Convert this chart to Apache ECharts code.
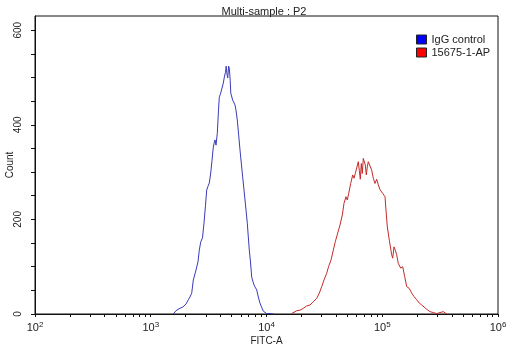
<!DOCTYPE html>
<html>
<head>
<meta charset="utf-8">
<script src="https://cdn.jsdelivr.net/npm/echarts@6/dist/echarts.min.js"></script>
<style>
  html, body { margin: 0; padding: 0; background: #fff; }
  #chart { width: 512px; height: 347px; }
</style>
</head>
<body>
<div id="chart"></div>
<script>
// FITC-A histogram: isotype control vs. antibody-stained sample
var titleText = 'Multi-sample : P2';
var seriesNames = ['IgG control', '15675-1-AP'];

// IgG control: FITC-A channel value and event count
var iggFitc = [1566, 1604, 1652, 1754, 1899, 2016, 2111, 2183, 2259, 2332, 2412, 2460, 2559, 2627, 2701, 2744, 2799, 2884, 2972, 3043, 3123, 3205, 3296, 3383, 3471, 3540, 3589, 3662, 3758, 3849, 3911, 4021, 4127, 4235, 4338, 4425, 4486, 4558, 4622, 4713, 4788, 4855, 4913, 5105, 5343, 5450, 5593, 5751, 5902, 6058, 6229, 6392, 6521, 6678, 6825, 6963, 7103, 7275, 7451, 7646, 7877, 8229, 8496, 8787, 9053, 9384, 9705, 10040, 10303, 10720, 11155, 11497];
var iggCount = [0, 4, 7, 11, 15, 21, 30, 36, 44, 72, 85, 93, 110, 135, 152, 156, 161, 192, 230, 262, 270, 277, 298, 325, 353, 363, 368, 357, 382, 431, 458, 467, 469, 488, 503, 511, 524, 507, 499, 524, 516, 494, 467, 452, 442, 431, 410, 378, 347, 319, 289, 262, 241, 216, 192, 163, 135, 110, 78, 68, 59, 51, 36, 23, 15, 6, 2, 1, 2, 1, 2, 0];

// 15675-1-AP stained sample
var apFitc = [16510, 17050, 18240, 19470, 20790, 22250, 23760, 25370, 27150, 28590, 29990, 31390, 33120, 34470, 36080, 37770, 39300, 41230, 43150, 45170, 46720, 48620, 49890, 51300, 53380, 55550, 57000, 58510, 60870, 62100, 63340, 64620, 65920, 67240, 68600, 69980, 71390, 72820, 74280, 75780, 78380, 81070, 83690, 86570, 89550, 92460, 95630, 100900, 105600, 107700, 110600, 115100, 120700, 123100, 126300, 129600, 133300, 137600, 144300, 150200, 156300, 162600, 171300, 179700, 188100, 198500, 209000, 219200, 229500, 242100, 258500, 276100, 295400, 315400, 336900, 348500, 360500];
var apCount = [1, 5, 7, 8, 12, 17, 19, 26, 33, 44, 58, 72, 86, 101, 114, 135, 153, 171, 188, 209, 234, 248, 241, 255, 276, 294, 287, 297, 301, 322, 304, 285, 318, 297, 329, 332, 315, 294, 311, 322, 318, 304, 287, 276, 285, 273, 263, 255, 248, 220, 184, 156, 125, 118, 142, 135, 125, 107, 97, 100, 79, 58, 54, 44, 37, 30, 23, 19, 15, 10, 5, 3, 1, 3, 5, 1, 0];

// Axis ticks
var xDecades = [100, 1000, 10000, 100000, 1000000];
var yTicks = [0, 50, 100, 150, 200, 250, 300, 350, 400, 450, 500, 550, 600];
var yLabels = [0, 200, 400, 600];

function logMinorTicks(decades) {
  var out = [];
  for (var i = 0; i < decades.length; i++) {
    out.push(decades[i]);
    if (i < decades.length - 1) {
      for (var k = 2; k <= 9; k++) out.push(decades[i] * k);
    }
  }
  return out;
}

function pairs(xs, ys) {
  return xs.map(function (x, i) { return [x, ys[i]]; });
}

var FONT = '"Liberation Sans", Arial, sans-serif';
var chart = echarts.init(document.getElementById('chart'));

chart.setOption({
  animation: false,
  backgroundColor: '#ffffff',
  textStyle: { fontFamily: FONT },
  title: {
    text: titleText,
    left: 259,
    top: 1,
    textAlign: 'center',
    textStyle: { fontSize: 11, fontWeight: 'normal', color: '#222', fontFamily: FONT }
  },
  legend: {
    orient: 'vertical',
    left: 411,
    top: 29,
    itemWidth: 10,
    itemHeight: 9,
    itemGap: 2,
    icon: 'rect',
    textStyle: { fontSize: 11, color: '#222', padding: [0, 0, 0, 0], fontFamily: FONT },
    data: [
      { name: seriesNames[0], itemStyle: { color: '#0000ff', borderColor: '#222', borderWidth: 1 } },
      { name: seriesNames[1], itemStyle: { color: '#ff0000', borderColor: '#222', borderWidth: 1 } }
    ]
  },
  grid: {
    left: 35,
    right: 14,
    top: 16,
    bottom: 33,
    outerBoundsMode: 'none',
    containLabel: false,
    show: true,
    borderColor: '#111',
    borderWidth: 1
  },
  xAxis: {
    type: 'log',
    logBase: 10,
    min: 100,
    max: 1000000,
    name: 'FITC-A',
    nameLocation: 'middle',
    nameGap: 22,
    nameMoveOverlap: false,
    nameTextStyle: { fontSize: 10, color: '#222', fontFamily: FONT },
    axisLine: { lineStyle: { color: '#111', width: 1 } },
    axisTick: { length: 3, customValues: logMinorTicks(xDecades), lineStyle: { color: '#111' } },
    axisLabel: {
      customValues: xDecades,
      margin: 7,
      fontSize: 11,
      color: '#222',
      formatter: function (v) {
        return '10{s|' + Math.round(Math.log10(v)) + '}';
      },
      rich: { s: { fontSize: 8, verticalAlign: 'top', padding: [0, 0, 6, 0], color: '#222' } }
    },
    splitLine: { show: false }
  },
  yAxis: {
    type: 'value',
    min: 0,
    max: 630,
    name: 'Count',
    nameLocation: 'middle',
    nameGap: 20,
    nameMoveOverlap: false,
    nameTextStyle: { fontSize: 10, color: '#222', fontFamily: FONT },
    axisLine: { show: true, lineStyle: { color: '#111', width: 1 } },
    axisTick: { show: true, length: 4, customValues: yTicks, lineStyle: { color: '#111' } },
    axisLabel: { customValues: yLabels, rotate: 90, margin: 12, fontSize: 10, color: '#222' },
    splitLine: { show: false }
  },
  series: [
    {
      name: seriesNames[0],
      type: 'line',
      data: pairs(iggFitc, iggCount),
      showSymbol: false,
      symbol: 'none',
      color: '#0000ff',
      lineStyle: { color: '#3a3ab8', width: 1 }
    },
    {
      name: seriesNames[1],
      type: 'line',
      data: pairs(apFitc, apCount),
      showSymbol: false,
      symbol: 'none',
      color: '#ff0000',
      lineStyle: { color: '#c42a2a', width: 1 }
    }
  ]
});
</script>
</body>
</html>
